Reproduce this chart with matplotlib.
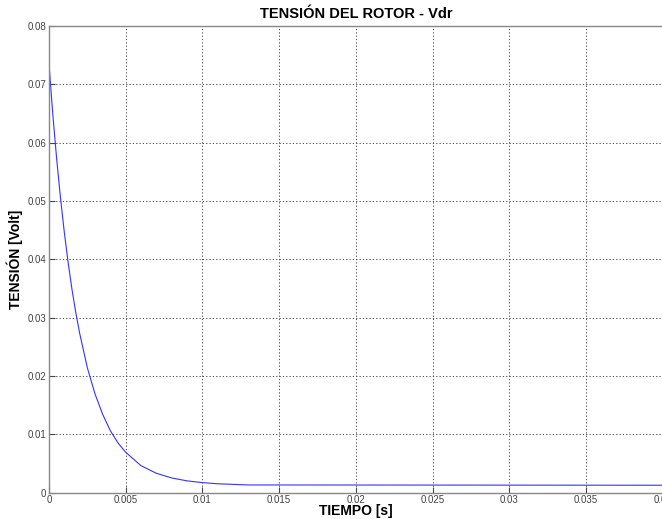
import matplotlib
matplotlib.use("Agg")
import matplotlib.pyplot as plt

# points (time in s, voltage in V)
tiempo = [0.0, 0.00025, 0.0005, 0.00075, 0.001, 0.00125, 0.0015, 0.00175,
          0.002, 0.0025, 0.003, 0.0035, 0.004, 0.0045, 0.005, 0.006, 0.007,
          0.008, 0.009, 0.010, 0.011, 0.012, 0.013, 0.04]
vdr = [0.0735, 0.0648, 0.0572, 0.0505, 0.0446, 0.0394, 0.0348, 0.0308,
       0.0273, 0.0214, 0.0169, 0.0134, 0.0106, 0.0085, 0.0069, 0.0046, 0.0033,
       0.0025, 0.0020, 0.0017, 0.0015, 0.0014, 0.0013, 0.00125]

xticks = [0, 0.005, 0.01, 0.015, 0.02, 0.025, 0.03, 0.035, 0.04]
yticks = [0, 0.01, 0.02, 0.03, 0.04, 0.05, 0.06, 0.07, 0.08]

plt.rcParams['font.family'] = ['Liberation Sans', 'DejaVu Sans']

fig = plt.figure(figsize=(6.62, 5.19), dpi=100)
ax = fig.add_axes([0.074, 0.051, 0.927, 0.899])

ax.plot(tiempo, vdr, color='#3333ff', linewidth=0.8)

ax.set_xlim(0, 0.04)
ax.set_ylim(0, 0.08)
ax.set_xticks(xticks)
ax.set_yticks(yticks)
ax.set_xticklabels([f"{t:g}" for t in xticks])
ax.set_yticklabels([f"{v:g}" for v in yticks])
ax.tick_params(direction='in', length=4, labelsize=7, colors='#444444',
               width=0.8, pad=2)

ax.grid(True, color='#333333', linestyle=(0, (1.5, 2.5)), linewidth=0.6)
for s in ax.spines.values():
    s.set_color('#888888')
    s.set_linewidth(1.0)

ax.set_title("TENSIÓN DEL ROTOR - Vdr", fontsize=10.5, fontweight='bold', pad=6)
ax.set_xlabel("TIEMPO [s]", fontsize=10, fontweight='bold', labelpad=-1)
ax.set_ylabel("TENSIÓN [Volt]", fontsize=10, fontweight='bold', labelpad=3)

fig.savefig("out.png", dpi=100)
